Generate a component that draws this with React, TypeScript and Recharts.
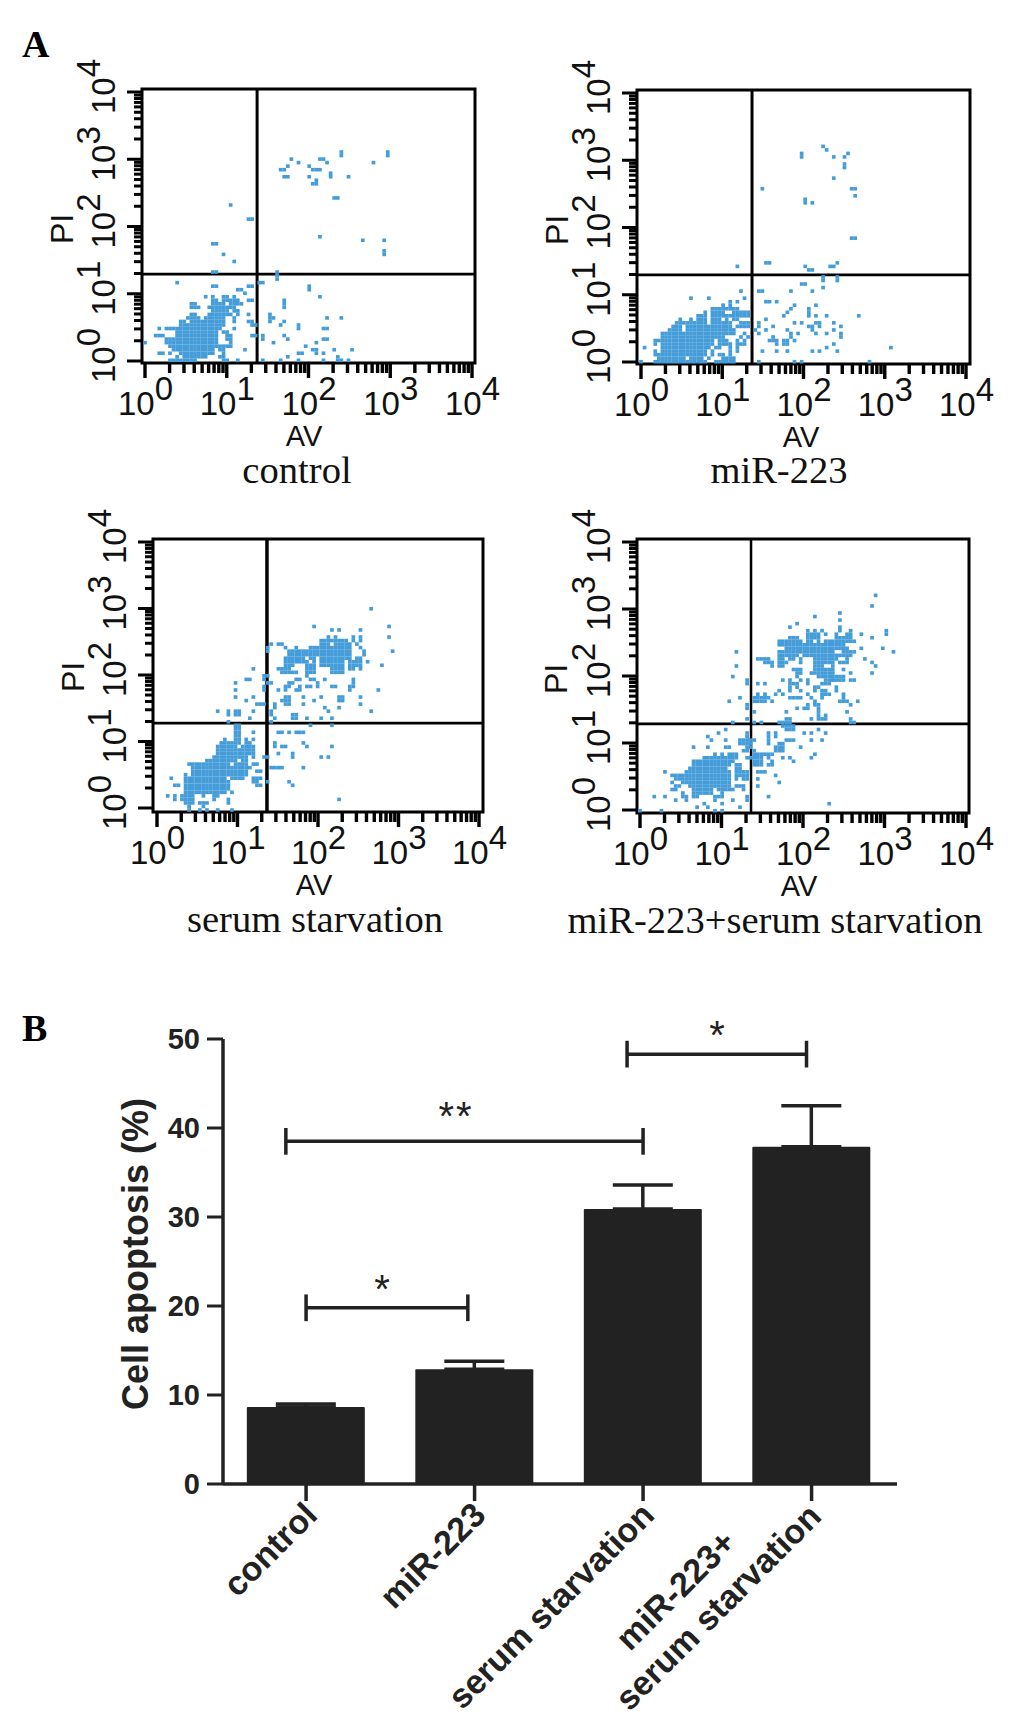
import { Bar, ComposedChart, ErrorBar, ReferenceArea, ReferenceDot, ReferenceLine, Scatter, ScatterChart, XAxis, YAxis } from "recharts";

const PAGE_W = 1033;
const PAGE_H = 1716;
const DOT = "#449cd8";
const INK = "#222222";
const SANS = "'Liberation Sans', Arial, sans-serif";
const SERIF = "'Liberation Serif', 'Times New Roman', serif";

// flow plots are binned: [PI channel, "AV channels"], a-b is a run of occupied channels
const controlRows: [number, string][] = [
  [0, "7-14 22-23 26 33 38 43 50 54-55 57"],
  [1, "9 11-17 21-22 40 54"],
  [2, "4-5 7 10-19 22 43-44 48 50"],
  [3, "8-19 21-22 28 47-48 53 58"],
  [4, "7-24 45"],
  [5, "0 6-20 24 36 48"],
  [6, "6-20 23-24 33 40 50-51"],
  [7, "3-5 9-20 23-24 30-31 33 39"],
  [8, "9-20 22-23"],
  [9, "4 6-21 25 43 50-51"],
  [10, "10-22 30-31 38 43"],
  [11, "10-11 13-22 25 29-30 35 39"],
  [12, "12-15 17-22 25 35-36 51 55"],
  [13, "13-14 18-24 26 29 35"],
  [14, "19-23 25-26"],
  [15, "13-15 18-25 39"],
  [16, "13-14 19-22 24-27 39"],
  [17, "19-20 22-26 29-30 39"],
  [18, "17 19 22-23 25 49"],
  [19, "28"],
  [20, "26-27 46"],
  [21, "19-20 29-30 46"],
  [22, "9 32-33"],
  [23, "37"],
  [24, "37"],
  [25, "19-20 37"],
  [28, "25"],
  [30, "22 67"],
  [31, "67"],
  [33, "19-20"],
  [34, "61 67"],
  [35, "49"],
  [40, "29-30"],
  [44, "24"],
  [46, "53-54"],
  [50, "47-48"],
  [51, "48"],
  [52, "39-40 46 52 57"],
  [53, "52"],
  [54, "38-39 47-49"],
  [55, "40 46"],
  [56, "43 51 64"],
  [57, "41 49-50"],
  [58, "55 68"],
  [59, "55 68"],
];

const mirRows: [number, string][] = [
  [0, "0 4-6 7-18 21-26 33 43 45 64"],
  [1, "5-12 14-17 19 23-26"],
  [2, "4-5 6-18 20 22-23 25"],
  [3, "4 6-18 20 25 27 34 38 41 48 50 55"],
  [4, "1 6-19 21-22 25 27 52 70"],
  [5, "4 6-20 22-24 25 27-29 38 40-41 54"],
  [6, "4-5 6-20 22-24 27 29 36-38 40-41 43"],
  [7, "6-23 28 30 37 42 56"],
  [8, "6-26 29 33 42 44 49 52 56"],
  [9, "8-11 13-26 32 35 41 48 54"],
  [10, "9-11 13-25 27-30 33 37 47-48 50 56"],
  [11, "10-13 14-18 20-25 28-30 33 43 45 49-50 54"],
  [12, "11 14 16-18 20-22 24 26-27 35"],
  [13, "16-18 20-30 40 47 49 52 61"],
  [14, "18 20-23 26-30 41 47"],
  [15, "20-27 42 47"],
  [16, "23 25 43 49"],
  [17, "25 27 35-36 38"],
  [18, "14 19 29"],
  [20, "28 33-34 42 48"],
  [21, "51"],
  [22, "45-46"],
  [23, "51 55"],
  [24, "51 55"],
  [26, "47-48"],
  [27, "27 46 53-54"],
  [28, "35-36 55"],
  [35, "59-60"],
  [45, "46 48"],
  [46, "46"],
  [47, "60"],
  [49, "34 59-60"],
  [52, "54"],
  [55, "57"],
  [56, "57"],
  [58, "45 54 57"],
  [59, "45 58"],
  [60, "52"],
  [61, "51"],
];

const serumRows: [number, string][] = [
  [0, "9 12 14 17 21"],
  [1, "9 13"],
  [2, "8-10 12 13-14 20"],
  [3, "5 7-10 16 20 51"],
  [4, "3 5 7 8-10 13 16-17"],
  [5, "8-13 14-19 21"],
  [6, "8-20"],
  [7, "5-6 8-19 20 28-29 38"],
  [8, "8-20 27-28 31 37"],
  [9, "4 8-19 21-24 27 28-29"],
  [10, "8 10-19 20-24 25"],
  [11, "10-25 28-29"],
  [12, "10-26 32-35 41"],
  [13, "9-20 22-25 27-28"],
  [14, "14-22 24-25"],
  [15, "16-25 27 30-31 38 46 48"],
  [16, "17-26 27 34 38"],
  [17, "17-20 21-27"],
  [18, "17-22 24-27 33 35-36 42 49"],
  [19, "18-20 21-23 25-26 33 41"],
  [20, "19 22-23 25 27"],
  [21, "22-23"],
  [22, "22-23 27 34-35 37 39-41"],
  [23, "22-23"],
  [24, "22-23 43 49"],
  [25, "20 32"],
  [26, "26 33 38-39 42 46 49"],
  [27, "20 22-23 32 38-39"],
  [28, "17 20 22-23 27 32 48 60"],
  [29, "33 47 51"],
  [30, "28-30 33 36-37 41 57"],
  [31, "25 35-37 44 51-52"],
  [32, "22 27 36-37 41 46 51-52 57"],
  [34, "22 30 34 36 39-40 54 62"],
  [35, "30 36-37 40 42-43 45 49-50 54 55"],
  [36, "22 31-32 37-38 45 55"],
  [37, "25-26 30 39-40 43-44 47 55"],
  [38, "30-31 42"],
  [39, "35-36 37-39 42-44 49-52"],
  [40, "27 34-37 42-44 49-52 54-55 57"],
  [41, "36-38 42-44 46-52 54-57 63"],
  [42, "36-42 44 46-52 54-57 59"],
  [43, "36-41 43-44 46-54 56-57"],
  [44, "37-45 46-50 51-54 58"],
  [45, "31 37-42 43-45 46-51 52-54 58 66"],
  [46, "31 36 39 43-45 46-54 57"],
  [47, "32 34-35 46-48 50-54 56"],
  [48, "46-49 50-53 55 57"],
  [49, "48 50 55 57 65"],
  [51, "49 51 57"],
  [52, "44 65"],
  [57, "60"],
];

const comboRows: [number, string][] = [
  [0, "0 6 21 23"],
  [1, "16 19 28"],
  [2, "18 23 53"],
  [3, "10 13 21 26 30"],
  [4, "4 7 12-13 15 16 21-23 30 36"],
  [5, "12 15-20 23"],
  [6, "9-10 15-20 22-25 26 29"],
  [7, "10-11 14-25 27-29 33"],
  [8, "9 12-25 39"],
  [9, "10-11 12-25 27 29-30 33"],
  [10, "9-25 27-28 29-30 38"],
  [11, "7 13-25 27-28 29-30 33-35"],
  [12, "14-24 27-28"],
  [13, "15-25 27-28 32-34 36-37"],
  [14, "15-26 32-34 37 43"],
  [15, "18-27 30-32 33-34 36 40 42 48"],
  [16, "21 23 25-27 32-33 34-37 49"],
  [17, "29-30 32 38-40"],
  [18, "15 19 24-25 30-31 38-40 45"],
  [19, "28-31 36 39-40"],
  [20, "20 24 28-31 32 36 41-43 48 51"],
  [21, "19 30 36 38"],
  [22, "22 30 36 38 46 48 52"],
  [23, "24 41-43 50"],
  [24, "40-43"],
  [25, "26 32 34 39-42 59-60"],
  [26, "30 41-42 48 50-52 59"],
  [27, "50 52"],
  [28, "32 41 50 58"],
  [29, "30 44 46-47 50"],
  [30, "30 47 49-50 59"],
  [31, "25 32-35 37 49 56-58 61"],
  [32, "28 32-36 42-45 48 51 57"],
  [33, "33 35 38 40 47 51-53 57"],
  [34, "39 42 45 49 51-52 55"],
  [35, "42 44 49-50 55"],
  [36, "30 33 35 42-44 47 51-53"],
  [37, "30 40 42 45 47 52-54 54-57 59-60"],
  [38, "26 44 50-53 54-57"],
  [39, "44-45 48-54 59 65"],
  [40, "43-45 49-51 52-54 57"],
  [41, "27 37 39-40 49-51 54 66"],
  [42, "35-37 39-40 41 45 49-51 52-54 56-58 65"],
  [43, "33-35 36 39-40 42-43 45 49-51 52-55 58 63"],
  [44, "39-44 46-50 51-59"],
  [45, "27 39-43 44-54 57-59 60 71"],
  [46, "41-57 57-58 62 68"],
  [47, "39-44 45-57"],
  [48, "39-42 43-45 47-48 50 52-59 60"],
  [49, "42-44 47-50 55-59 65"],
  [50, "47-50 52 55 58 59 62 69"],
  [51, "47 49 51 56 59 69"],
  [52, "42 56"],
  [53, "44"],
  [54, "56"],
  [55, "49"],
  [56, "56"],
  [58, "65"],
  [61, "66"],
];

const decades = [0, 1, 2, 3, 4];
const minorSteps = [1, 2, 3, 4, 5, 6, 7, 8, 9];

const categories = ["control", "miR-223", "serum starvation", "miR-223+serum starvation"];
const categoryPositions = [1, 2, 3, 4];
const apoptosisValues = [8.65, 12.9, 30.9, 37.9];
const apoptosisErrors = [0.35, 0.9, 2.7, 4.6];
const apoptosisTicks = [0, 10, 20, 30, 40, 50];
const barTickLines = [["control"], ["miR-223"], ["serum starvation"], ["miR-223+", "serum starvation"]];

const brackets = [
  { from: 1, to: 1.96, y: 19.8 },
  { from: 0.88, to: 3, y: 38.5 },
  { from: 2.905, to: 3.97, y: 48.3 },
];
const bracketCap = 1.5;
const sigMarks = [
  { x: 1.457, y: 22.8, text: "*" },
  { x: 1.89, y: 42.2, text: "**" },
  { x: 3.445, y: 51.3, text: "*" },
];

const CELL_W = 3.57;
const CELL_H = 3.53;

const panels = [
  { rows: controlRows, frame: { l: 142, r: 475, t: 89, b: 363 }, tickX: [145, 472], tickY: [361, 92], row0: 360.3, gate: [31.4, 24.4], gateW: 3 },
  { rows: mirRows, frame: { l: 637, r: 970, t: 90, b: 364 }, tickX: [641, 966], tickY: [362, 93], row0: 361.7, gate: [31.1, 24.6], gateW: 3 },
  { rows: serumRows, frame: { l: 153, r: 483, t: 539, b: 812 }, tickX: [157, 479], tickY: [808, 542], row0: 810, gate: [30.8, 24.6], gateW: 3.5 },
  { rows: comboRows, frame: { l: 637, r: 969, t: 539, b: 813 }, tickX: [640, 966], tickY: [810, 542], row0: 810.7, gate: [31.1, 24.6], gateW: 2.5 },
];

// captions and axis names, placed on the page
const panelTexts = [
  { caption: [297, 483], av: [304, 446], pi: [73, 229] },
  { caption: [779, 483], av: [801, 447], pi: [568, 230] },
  { caption: [315, 932], av: [314, 895], pi: [84, 677] },
  { caption: [775, 933], av: [799, 896], pi: [567, 679] },
];

function toCells(rows: [number, string][]) {
  const cells: { av: number; pi: number }[] = [];
  rows.forEach(([pi, spans]) => {
    spans.split(" ").forEach((span) => {
      const [a, b] = span.split("-").map(Number);
      for (let av = a; av <= (b === undefined ? a : b); av++) cells.push({ av, pi });
    });
  });
  return cells;
}

// one tick per 1..9 in every decade plus the last 10^4
function logTicks(origin: number, perDecade: number) {
  const out: number[] = [];
  decades.slice(0, 4).forEach((d) => {
    minorSteps.forEach((m) => out.push(origin + (d + Math.log10(m)) * perDecade));
  });
  out.push(origin + 4 * perDecade);
  return out;
}

function Cell(props: any) {
  return <rect x={props.cx - 1.85} y={props.cy - 1.8} width={3.7} height={3.6} fill={DOT} />;
}

function XLogTick(props: any) {
  const { x, index, frameBottom } = props;
  const major = index % 9 === 0;
  return (
    <g>
      <line x1={x} x2={x} y1={frameBottom} y2={frameBottom + (major ? 15 : 10)} stroke="#000" strokeWidth={3.4} />
      {major && (
        <text x={x - 27} y={frameBottom + 52} fontFamily={SANS} fontSize={33} fill="#111">
          10
          <tspan dy={-15} fontSize={33}>{index / 9}</tspan>
        </text>
      )}
    </g>
  );
}

function YLogTick(props: any) {
  const { y, index, frameLeft } = props;
  const major = index % 9 === 0;
  const bx = frameLeft - 27;
  return (
    <g>
      <line x1={frameLeft} x2={frameLeft - (major ? 15 : 8)} y1={y} y2={y} stroke="#000" strokeWidth={3} />
      {major && (
        <text transform={`translate(${bx},${y + 22}) rotate(-90)`} fontFamily={SANS} fontSize={33} fill="#111">
          10
          <tspan dy={-15} fontSize={33}>{index / 9}</tspan>
        </text>
      )}
    </g>
  );
}

function FlowPanel({ panel }: { panel: (typeof panels)[number] }) {
  const { frame, tickX, tickY, row0, gate, gateW } = panel;
  const xDomain = [(frame.l - tickX[0]) / CELL_W, (frame.r - tickX[0]) / CELL_W];
  const yDomain = [(row0 - frame.b) / CELL_H, (row0 - frame.t) / CELL_H];
  const xTicks = logTicks(0, (tickX[1] - tickX[0]) / 4 / CELL_W);
  const yTicks = logTicks((row0 - tickY[0]) / CELL_H, (tickY[0] - tickY[1]) / 4 / CELL_H);
  return (
    <div style={{ position: "absolute", left: 0, top: 0 }}>
      <ScatterChart
        width={PAGE_W}
        height={PAGE_H}
        margin={{ left: frame.l - 1, right: PAGE_W - frame.r, top: frame.t, bottom: PAGE_H - frame.b - 1 }}
      >
        <XAxis
          type="number"
          dataKey="av"
          domain={xDomain}
          ticks={xTicks}
          interval={0}
          height={1}
          axisLine={false}
          tickLine={false}
          tick={(p: any) => <XLogTick {...p} frameBottom={frame.b} />}
        />
        <YAxis
          type="number"
          dataKey="pi"
          domain={yDomain}
          ticks={yTicks}
          interval={0}
          width={1}
          axisLine={false}
          tickLine={false}
          tick={(p: any) => <YLogTick {...p} frameLeft={frame.l} />}
        />
        <Scatter data={toCells(panel.rows)} shape={Cell} isAnimationActive={false} />
        <ReferenceLine x={gate[0]} stroke="#000" strokeWidth={gateW} />
        <ReferenceLine y={gate[1]} stroke="#000" strokeWidth={2.8} />
        <ReferenceArea x1={xDomain[0]} x2={xDomain[1]} y1={yDomain[0]} y2={yDomain[1]} fill="none" stroke="#000" strokeWidth={3} />
      </ScatterChart>
    </div>
  );
}

function BarTick(props: any) {
  const { x, index } = props;
  const lines = barTickLines[index];
  const ax = x + 13;
  const ay = 1517;
  return (
    <g>
      <line x1={x} x2={x} y1={1484} y2={1501} stroke={INK} strokeWidth={3.5} />
      <text transform={`translate(${ax},${ay}) rotate(-45)`} textAnchor="end" fontFamily={SANS} fontWeight={700} fontSize={34} fill={INK}>
        {lines.length === 1 ? (
          lines[0]
        ) : (
          <>
            <tspan x={-81} y={-42}>{lines[0]}</tspan>
            <tspan x={-2} y={0}>{lines[1]}</tspan>
          </>
        )}
      </text>
    </g>
  );
}

function SigMark(props: any) {
  return (
    <text x={props.cx} y={props.cy + 22} textAnchor="middle" fontFamily={SANS} fontSize={40} letterSpacing={2} fill={INK}>
      {props.mark}
    </text>
  );
}

function ApoptosisChart() {
  const data = categoryPositions.map((pos, i) => ({
    pos,
    value: apoptosisValues[i],
    err: [0, apoptosisErrors[i]],
  }));
  const lineStyle = { stroke: INK, strokeWidth: 3.5 };
  return (
    <div style={{ position: "absolute", left: 0, top: 0 }}>
      <ComposedChart
        width={PAGE_W}
        height={PAGE_H}
        data={data}
        margin={{ left: 222, right: PAGE_W - 897, top: 1039, bottom: PAGE_H - 1485 }}
      >
        <XAxis
          type="number"
          dataKey="pos"
          domain={[0.507, 4.507]}
          ticks={categoryPositions}
          interval={0}
          height={1}
          axisLine={{ stroke: INK, strokeWidth: 3.5 }}
          tickLine={false}
          tick={(p: any) => <BarTick {...p} />}
        />
        <YAxis
          type="number"
          domain={[0, 50]}
          ticks={apoptosisTicks}
          width={1}
          tickSize={16}
          tickMargin={7}
          axisLine={{ stroke: INK, strokeWidth: 3.5 }}
          tickLine={{ stroke: INK, strokeWidth: 3 }}
          tick={{ fontFamily: SANS, fontWeight: 700, fontSize: 29, fill: INK }}
        />
        <Bar dataKey="value" barSize={118} fill={INK} radius={1} isAnimationActive={false}>
          <ErrorBar dataKey="err" direction="y" width={30} stroke={INK} strokeWidth={3.5} isAnimationActive={false} />
        </Bar>
        {brackets.map((b, i) => (
          <ReferenceLine key={`h${i}`} segment={[{ x: b.from, y: b.y }, { x: b.to, y: b.y }]} {...lineStyle} />
        ))}
        {brackets.map((b, i) => (
          <ReferenceLine key={`l${i}`} segment={[{ x: b.from, y: b.y - bracketCap }, { x: b.from, y: b.y + bracketCap }]} {...lineStyle} />
        ))}
        {brackets.map((b, i) => (
          <ReferenceLine key={`r${i}`} segment={[{ x: b.to, y: b.y - bracketCap }, { x: b.to, y: b.y + bracketCap }]} {...lineStyle} />
        ))}
        {sigMarks.map((m, i) => (
          <ReferenceDot key={i} x={m.x} y={m.y} r={0} ifOverflow="visible" shape={(p: any) => <SigMark {...p} mark={m.text} />} />
        ))}
      </ComposedChart>
    </div>
  );
}

function PageText() {
  return (
    <svg width={PAGE_W} height={PAGE_H} style={{ position: "absolute", left: 0, top: 0 }}>
      <text x={22} y={57} fontFamily={SERIF} fontWeight={700} fontSize={38} fill="#000">A</text>
      <text x={22} y={1041} fontFamily={SERIF} fontWeight={700} fontSize={38} fill="#000">B</text>
      {panelTexts.map((t, i) => (
        <g key={i}>
          <text x={t.caption[0]} y={t.caption[1]} textAnchor="middle" fontFamily={SERIF} fontSize={38.6} fill="#111">{categories[i]}</text>
          <text x={t.av[0]} y={t.av[1]} textAnchor="middle" fontFamily={SANS} fontSize={29} fill="#111">AV</text>
          <text transform={`translate(${t.pi[0]},${t.pi[1]}) rotate(-90)`} textAnchor="middle" fontFamily={SANS} fontSize={32} fill="#111">PI</text>
        </g>
      ))}
      <text transform="translate(148,1254) rotate(-90)" textAnchor="middle" fontFamily={SANS} fontWeight={700} fontSize={36} fill={INK}>
        Cell apoptosis (%)
      </text>
    </svg>
  );
}

export default function App() {
  return (
    <div style={{ position: "absolute", left: 0, top: 0, width: PAGE_W, height: PAGE_H, background: "#fff" }}>
      {panels.map((p, i) => (
        <FlowPanel key={i} panel={p} />
      ))}
      <ApoptosisChart />
      <PageText />
    </div>
  );
}
